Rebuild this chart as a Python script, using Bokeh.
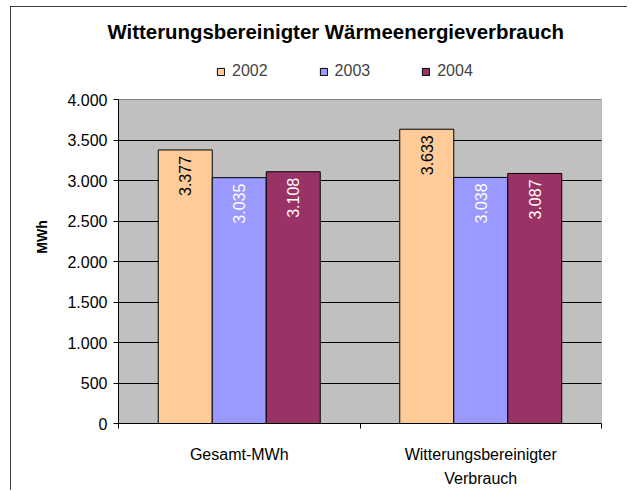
from math import pi
from bokeh.plotting import figure
from bokeh.models import ColumnDataSource, FixedTicker, Legend, LegendItem
from bokeh.core.properties import value
from bokeh.embed import file_html
from bokeh.resources import INLINE

title_text = "Witterungsbereinigter Wärmeenergieverbrauch"
categories = ["Gesamt-MWh", "Witterungsbereinigter\nVerbrauch"]
years = ["2002", "2003", "2004"]
values_2002 = [3377, 3633]
values_2003 = [3035, 3038]
values_2004 = [3108, 3087]
value_labels_2002 = ["3.377", "3.633"]
value_labels_2003 = ["3.035", "3.038"]
value_labels_2004 = ["3.108", "3.087"]
y_ticks = [0, 500, 1000, 1500, 2000, 2500, 3000, 3500, 4000]
y_tick_labels = ["0", "500", "1.000", "1.500", "2.000", "2.500", "3.000", "3.500", "4.000"]
y_axis_label = "MWh"

series_values = [values_2002, values_2003, values_2004]
series_labels = [value_labels_2002, value_labels_2003, value_labels_2004]
colors = ["#FFCC99", "#9999FF", "#993366"]
label_colors = ["#000000", "#FFFFFF", "#FFFFFF"]

FONT = "Liberation Sans"
Y_MIN, Y_MAX = y_ticks[0], y_ticks[-1]
Y_VIEW_TOP = 4605  # extra room above the plot area for the legend

p = figure(width=617, height=485, x_range=(0, len(categories)), y_range=(Y_MIN, Y_VIEW_TOP),
           output_backend="svg", toolbar_location=None,
           min_border_left=108, min_border_right=26, min_border_top=44, min_border_bottom=68)
p.styles = {"margin-left": "10px", "margin-top": "6px",
            "outline": "1px solid #000000", "outline-offset": "-1px",
            "clip-path": "inset(0px 0px 1px 0px)"}

p.title.text = title_text
p.title.align = "left"
p.title.offset = -11
p.title.standoff = 16
p.title.text_font = FONT
p.title.text_font_size = "20.4px"
p.title.text_font_style = "bold"
p.title.text_color = "#000000"

p.background_fill_color = "#FFFFFF"
p.border_fill_color = "#FFFFFF"
p.outline_line_color = None

# grey plot area
p.quad(left=[0], right=[len(categories)], bottom=[Y_MIN], top=[Y_MAX],
       fill_color="#C0C0C0", line_color="#808080", line_width=1, level="image")

bar_w = 0.2236
centers = [i + 0.5 for i in range(len(categories))]
items = []
for k, (yr, vals, labs) in enumerate(zip(years, series_values, series_labels)):
    xs = [c + (k - 1) * bar_w for c in centers]
    src = ColumnDataSource(dict(x=xs, top=vals, lab=labs))
    r = p.vbar(x="x", top="top", width=bar_w, source=src,
               fill_color=colors[k], line_color="#000000", line_width=1)
    p.text(x="x", y="top", text="lab", source=src, angle=pi / 2,
           text_align="right", text_baseline="middle", y_offset=6,
           text_color=label_colors[k], text_font=value(FONT), text_font_size="16px")
    items.append(LegendItem(label=yr, renderers=[r]))

legend = Legend(items=items, orientation="horizontal", location=(98, 342),
                glyph_width=9, glyph_height=9, label_standoff=7, spacing=51,
                padding=0, margin=0, border_line_color=None, background_fill_alpha=0,
                label_text_font=FONT, label_text_font_size="16px", label_height=20)
p.add_layout(legend, "center")

# y axis
p.yaxis.ticker = FixedTicker(ticks=y_ticks)
p.yaxis.bounds = (Y_MIN, Y_MAX)
p.yaxis.major_label_overrides = {t: l for t, l in zip(y_ticks, y_tick_labels)}
p.yaxis.major_tick_out = 5
p.yaxis.major_tick_in = 0
p.yaxis.minor_tick_line_color = None
p.yaxis.axis_line_color = "#000000"
p.yaxis.major_tick_line_color = "#000000"
p.yaxis.major_label_standoff = 6
p.yaxis.major_label_text_font = FONT
p.yaxis.major_label_text_font_size = "16px"
p.yaxis.major_label_text_color = "#000000"
p.yaxis.axis_label = y_axis_label
p.yaxis.axis_label_text_font = FONT
p.yaxis.axis_label_text_font_size = "14px"
p.yaxis.axis_label_text_font_style = "bold"
p.yaxis.axis_label_text_color = "#000000"
p.yaxis.axis_label_standoff = 14

# x axis
boundaries = list(range(len(categories) + 1))
p.xaxis.ticker = FixedTicker(ticks=centers, minor_ticks=boundaries)
p.xaxis.major_label_overrides = {c: n for c, n in zip(centers, categories)}
p.xaxis.major_tick_line_color = None
p.xaxis.major_tick_out = 0
p.xaxis.major_tick_in = 0
p.xaxis.minor_tick_out = 5
p.xaxis.minor_tick_in = 0
p.xaxis.minor_tick_line_color = "#000000"
p.xaxis.axis_line_color = "#000000"
p.xaxis.major_label_standoff = 17
p.xaxis.major_label_text_font = FONT
p.xaxis.major_label_text_font_size = "16px"
p.xaxis.major_label_text_color = "#000000"
p.xaxis.major_label_text_line_height = 1.45

p.xgrid.visible = False
p.ygrid.ticker = FixedTicker(ticks=y_ticks[1:-1])
p.ygrid.grid_line_color = "#000000"
p.ygrid.grid_line_width = 1

open("out.html", "w").write(file_html(p, INLINE))
